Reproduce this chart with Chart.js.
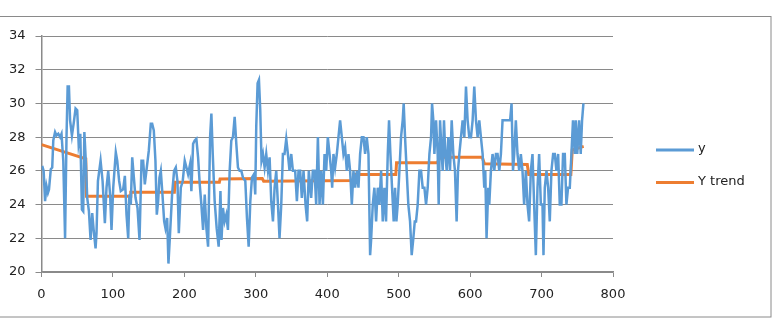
<!DOCTYPE html>
<html>
<head>
<meta charset="utf-8">
<script src="https://cdn.jsdelivr.net/npm/chart.js@4/dist/chart.umd.min.js"></script>
<style>
html,body{margin:0;padding:0;background:#fff;}
#wrap{width:778px;height:320px;position:relative;}
</style>
</head>
<body>
<div id="wrap"><canvas id="c" width="778" height="320"></canvas></div>
<script>
// ---- data ----
const yX = [1,3,5,7,9,10.5,13,15,16.5,19,21,23.5,26,28,30.5,33,35,36.6,38.4,40,42.6,45,47.7,50,52,54.3,56.6,58.4,60,62,64,66.4,68.7,71,73,75.7,77,79,82.7,85.5,88.7,91,93.4,96,98,100.4,104,106,108.7,111,114.3,116.7,119,121.4,123,125,127,129.3,131.6,134.4,137.2,140,142.3,144.6,147.4,150.2,153,154.9,157.2,159.5,161.4,163.3,165.1,167,169.3,171.7,173.5,175.9,177.7,180,182.8,185.6,188,190.3,192.2,195,197.7,200.5,202.9,205.2,208,209.8,212.2,214.5,216.8,219.2,221.5,223.8,226.2,228.5,230.8,233.2,236,237.8,239.7,242.4,245.2,248,250.5,252,254,256.3,258.7,261,263.4,265.7,268,270.4,272.7,275,277.3,279.7,282,285.3,287.6,290,292.3,294.6,297.4,299.2,300.6,302.5,304.4,306.2,308,310,312.3,314.6,317,319.3,321.6,324,326.3,328.6,331,333.2,335.6,337.9,340.2,342.6,344.9,347.2,349.6,351.9,355.1,357.5,359.8,362.1,364.4,366.8,369.6,371.9,374.2,377.5,379.8,382.2,384.5,386.9,389.2,391.5,393.9,396.2,398.5,400.8,403.2,405.5,406.9,408.7,411,413.4,415.7,418,420.4,422.7,425,427.4,429.7,432,434.4,436.7,439,441.4,443.7,446,448.4,450.7,453,455.3,457.7,460,461.4,463.7,466,468.4,470.7,473,475.4,477.7,480,482.3,484.7,486.5,488.4,490.7,493,494.9,496.8,498.6,501,503.3,505.6,507,508.9,511.2,513.5,515.9,518.2,520.5,522.5,524.3,526.6,529,531.3,533.6,536,538.3,540.6,543,545.3,546.7,548.5,550,552.3,554.6,556,557.9,560.2,561.6,563.4,565.3,567.2,569.5,571.8,574.2,576.5,578.8,581.1,583,584.9,587.2,589.5,591.9,594.2,596.5,598.8,601.2,603.5,605.8,608.2,610.5,612.8,615.1,617.5,619.8,621.2,623,625.4,626.8,629.1,631.4,633.8,636.1,638.4,640.8,643.1,645.4,647.7,650,652.4,656,658,660,661.7,664,666.3,668.7,671,673.3,675.6,678,680.3,682.6,685,687.3,689.6,692,694.3,696.6,699,701.3,702.7,704.5,706.9,709.2,711.5,713.8,716.2,718.5,720.8,723.2,725.5,727.8,730.1,732.5,734.8,737.1,739.5,741.8,744,746.4,747.8,750,752.5,754.8,756.7,758.6];
const yVals = [26.3,26.0,24.2,25.1,24.7,24.9,26.1,26.2,27.8,28.3,28.1,28.2,28.0,28.2,26.6,22.0,28.0,31.0,31.0,29.0,28.1,28.8,29.7,29.6,27.6,28.2,23.7,23.6,28.3,26.6,24.4,23.6,21.9,23.5,22.5,21.4,22.3,25.4,26.6,25.4,22.9,25.0,26.0,24.6,22.5,25.0,27.1,26.6,25.4,24.8,24.9,25.7,23.4,22.0,24.6,24.0,26.8,25.6,24.4,23.8,21.9,26.6,26.6,25.2,26.2,27.2,28.8,28.8,28.4,26.6,23.4,24.2,25.6,26.0,24.6,23.0,22.6,23.2,20.5,22.3,24.6,26.0,26.2,25.4,22.3,25.0,25.4,26.6,26.2,25.8,26.4,24.8,27.6,27.8,27.9,26.8,25.2,24.0,22.5,24.6,22.6,21.5,28.0,29.4,27.0,24.2,22.6,21.5,24.8,21.9,23.8,23.0,23.4,22.5,26.0,27.8,28.0,29.2,27.6,26.2,26.0,26.0,25.6,25.4,23.2,21.5,24.2,25.6,25.8,24.6,28.6,31.2,31.4,29.6,26.6,27.0,26.2,27.0,26.0,26.8,24.2,23.0,25.0,26.0,24.0,22.0,24.0,27.0,27.0,27.9,27.0,26.0,27.0,26.0,26.0,24.2,26.0,26.0,24.4,26.0,24.0,23.0,26.0,24.4,26.0,26.0,24.0,28.0,24.0,26.0,24.0,27.0,26.0,28.0,27.0,26.0,25.0,27.0,26.2,27.0,28.0,29.0,28.0,27.0,27.4,26.0,27.0,26.0,24.0,26.0,25.0,26.0,25.0,27.0,28.0,28.0,27.0,28.0,27.0,21.0,21.9,24.0,25.0,23.0,25.0,24.0,26.0,23.0,25.0,23.0,27.0,29.0,27.0,25.0,23.0,25.0,23.0,24.0,26.0,28.0,29.0,30.0,28.0,26.0,24.0,23.0,21.0,22.0,23.0,23.0,24.0,26.0,26.0,25.0,25.0,24.0,25.0,27.0,28.0,30.0,29.0,27.0,29.0,27.0,24.0,29.0,27.0,26.0,29.0,27.0,26.0,28.0,26.0,29.0,27.0,26.0,23.0,26.0,27.0,28.0,29.0,28.0,31.0,29.0,28.0,28.0,29.0,31.0,29.0,28.0,29.0,28.0,27.0,25.0,26.0,22.0,25.0,24.0,26.0,27.0,26.0,27.0,27.0,26.0,27.0,29.0,29.0,29.0,29.0,29.0,30.0,26.0,27.0,29.0,27.0,26.0,27.0,26.0,24.0,26.0,24.0,23.0,26.0,27.0,24.0,21.0,25.0,27.0,24.0,24.0,21.0,25.0,26.0,25.0,23.0,26.0,27.0,27.0,26.0,27.0,24.0,24.0,27.0,27.0,24.0,25.0,25.0,27.0,29.0,27.0,29.0,27.0,29.0,27.0,29.0,30.0];
const trendX = [0,62,63,124,125,186,187,249,250,309,311,436,437,496,497,554,558,617,620,680,682,741,743,759];
const trendVals = [27.56,26.71,24.5,24.5,24.73,24.73,25.33,25.33,25.52,25.55,25.39,25.43,25.78,25.78,26.48,26.48,26.8,26.8,26.42,26.38,25.78,25.78,27.25,27.45];
const seriesNames = ['y','Y trend'];
const seriesColors = ['#5B9BD5','#ED7D31'];

const gray = '#8a8a8a';
const fontFam = '"DejaVu Sans", sans-serif';

const legendPlugin = {
  id: 'customLegend',
  afterDraw(chart) {
    const ctx = chart.ctx;
    const ys = [150, 182.5];
    ctx.save();
    for (let i = 0; i < seriesNames.length; i++) {
      ctx.strokeStyle = seriesColors[i];
      ctx.lineWidth = 3;
      ctx.beginPath();
      ctx.moveTo(656, ys[i]);
      ctx.lineTo(694, ys[i]);
      ctx.stroke();
      ctx.fillStyle = '#222';
      ctx.font = '13px ' + fontFam;
      ctx.textBaseline = 'middle';
      ctx.textAlign = 'left';
      ctx.fillText(seriesNames[i], 698, ys[i] - 1);
    }
    ctx.strokeStyle = gray;
    ctx.lineWidth = 1;
    ctx.strokeRect(-1, 16.5, 772, 300.5);
    ctx.restore();
  }
};

new Chart(document.getElementById('c'), {
  type: 'line',
  data: {
    datasets: [
      {
        label: seriesNames[0],
        data: yX.map((x, i) => ({x: x, y: yVals[i]})),
        borderColor: seriesColors[0],
        borderWidth: 2.5,
        pointRadius: 0,
        tension: 0,
        fill: false
      },
      {
        label: seriesNames[1],
        data: trendX.map((x, i) => ({x: x, y: trendVals[i]})),
        borderColor: seriesColors[1],
        borderWidth: 3,
        pointRadius: 0,
        tension: 0,
        fill: false
      }
    ]
  },
  options: {
    responsive: false,
    animation: false,
    devicePixelRatio: 1,
    layout: { padding: { left: 0, right: 165, top: 36, bottom: 0 } },
    plugins: { legend: { display: false }, tooltip: { enabled: false } },
    scales: {
      x: {
        type: 'linear',
        min: 0, max: 800,
        afterFit: (s) => { s.height = 48; },
        grid: { drawOnChartArea: false, drawTicks: true, tickLength: 5, color: gray },
        border: { display: true, color: gray, width: 1.5 },
        ticks: { stepSize: 100, color: '#222', font: { family: fontFam, size: 13 }, padding: 10, maxRotation: 0 }
      },
      y: {
        min: 20, max: 34,
        afterFit: (s) => { s.width = 41.5; },
        grid: { color: gray, lineWidth: 1, tickLength: 6, drawTicks: true },
        border: { display: true, color: gray, width: 1.5 },
        ticks: { stepSize: 2, color: '#222', font: { family: fontFam, size: 13 }, padding: 10 }
      }
    }
  },
  plugins: [legendPlugin]
});
</script>
</body>
</html>
